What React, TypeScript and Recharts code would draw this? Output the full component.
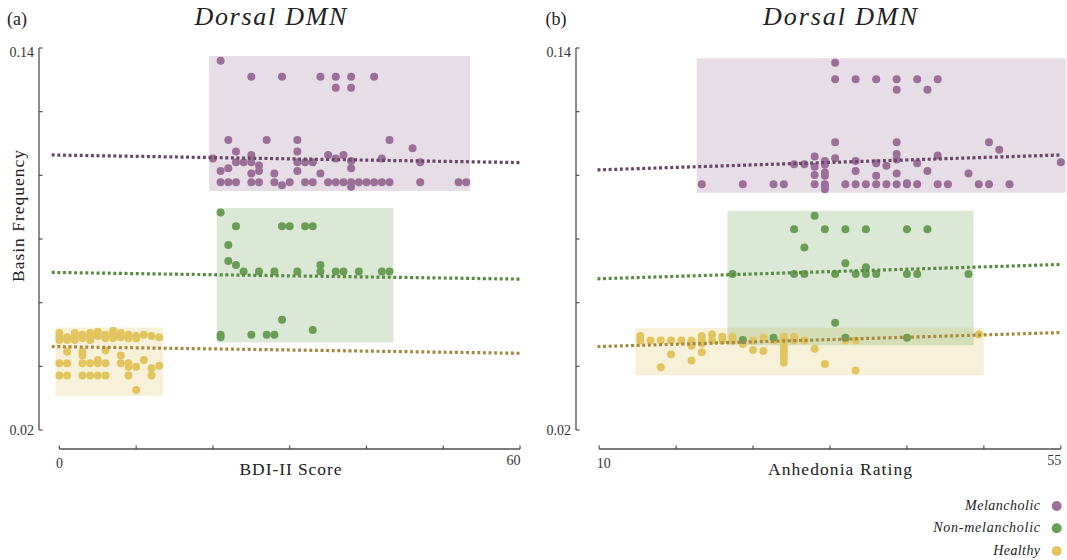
import React from 'react';
import { ScatterChart, Scatter, XAxis, YAxis, ReferenceArea, ReferenceLine } from 'recharts';

// colours picked off the figure
const MEL = '#9b6f98';
const NON = '#6a9d55';
const HEA = '#e3c560';
const MEL_LINE = '#684665';
const NON_LINE = '#5a8b43';
const HEA_LINE = '#a48b42';
const AXIS = '#505050';
const FONT = '"Liberation Serif", "Times New Roman", serif';

// ---- tick values ----
const bdiTicks = [0, 10, 20, 30, 40, 50, 60];
const anhTicks = [10, 17.5, 25, 32.5, 40, 47.5, 55];
const freqTicks = [0.02, 0.04, 0.06, 0.08, 0.1, 0.12, 0.14];

// ---- (a) BDI-II score vs basin frequency ----
const bdiMelancholic = [
  [21, 0.136],
  [25, 0.131], [29, 0.131], [34, 0.131], [36, 0.131], [38, 0.131], [41, 0.131],
  [36, 0.1275], [38, 0.1275],
  [22, 0.1111], [27, 0.1111], [31, 0.1111], [43, 0.1111],
  [46, 0.1085],
  [23, 0.1075], [31, 0.1075],
  [25, 0.1064], [35, 0.1064], [37, 0.1064],
  [20, 0.1053], [36, 0.1053], [42, 0.1053],
  [38, 0.1045], [47, 0.1041],
  [23, 0.1041], [24, 0.1041], [25, 0.1041], [31, 0.1041], [32, 0.1041], [33, 0.1041],
  [26, 0.1031],
  [22, 0.1022], [38, 0.1022],
  [21, 0.1014], [26, 0.1014], [31, 0.1014],
  [25, 0.1006], [28, 0.1006], [34, 0.1006],
  [21, 0.0978], [22, 0.0978], [23, 0.0978], [25, 0.0978], [26, 0.0978], [28, 0.0978],
  [29, 0.0969], [30, 0.0978], [32, 0.0978], [33, 0.0978], [35, 0.0978], [36, 0.0978],
  [37, 0.0978], [38, 0.0978], [38, 0.0964], [39, 0.0978], [40, 0.0978], [41, 0.0978],
  [42, 0.0978], [43, 0.0978], [47, 0.0978], [52, 0.0978], [53, 0.0978],
];
const bdiNonMelancholic = [
  [21, 0.0883],
  [23, 0.084], [29, 0.084], [30, 0.084], [32, 0.084], [33, 0.084],
  [22, 0.0781], [22, 0.0731], [23, 0.0718], [34, 0.0718],
  [24, 0.0698], [26, 0.0698], [28, 0.0698], [31, 0.0698], [34, 0.0698],
  [36, 0.0698], [37, 0.0698], [39, 0.0698], [42, 0.0698], [43, 0.0698],
  [29, 0.0546], [33, 0.0514],
  [21, 0.0499], [21, 0.0491], [25, 0.0499], [27, 0.0499], [28, 0.0499],
];
const bdiHealthy = [
  [0, 0.0505], [0, 0.0491], [0, 0.0483], [0, 0.041], [0, 0.0371],
  [1, 0.0491], [1, 0.0483], [1, 0.0446], [1, 0.041], [1, 0.0371],
  [2, 0.0505], [2, 0.0491], [2, 0.0483],
  [3, 0.0499], [3, 0.0488], [3, 0.0446], [3, 0.0434], [3, 0.041], [3, 0.0371],
  [4, 0.0505], [4, 0.0491], [4, 0.0483], [4, 0.041], [4, 0.0371],
  [5, 0.0509], [5, 0.0495], [5, 0.042], [5, 0.041], [5, 0.0371],
  [6, 0.0499], [6, 0.0488], [6, 0.045], [6, 0.041], [6, 0.0371],
  [7, 0.0512], [7, 0.0499], [7, 0.0488],
  [8, 0.0505], [8, 0.0491], [8, 0.0434], [8, 0.041],
  [9, 0.0499], [9, 0.0488], [9, 0.041], [9, 0.0399], [9, 0.0371],
  [10, 0.0495], [10, 0.0488], [10, 0.0399], [10, 0.0326],
  [11, 0.0499], [11, 0.042],
  [12, 0.0495], [12, 0.0394], [12, 0.0371],
  [13, 0.0491], [13, 0.0402],
];
// shaded ranges: [x1, x2, y1, y2]
const bdiMelBox = [19.5, 53.5, 0.0951, 0.1375];
const bdiNonBox = [20.5, 43.5, 0.0475, 0.0897];
const bdiHeaBox = [-0.5, 13.5, 0.0307, 0.0522];
// fitted lines: [[x1, y1], [x2, y2]]
const bdiMelFit = [[-1, 0.1064], [60, 0.104]];
const bdiNonFit = [[-1, 0.0695], [60, 0.0674]];
const bdiHeaFit = [[-1, 0.0462], [60, 0.0441]];

// ---- (b) anhedonia rating vs basin frequency ----
const anhMelancholic = [
  [33, 0.1354],
  [33, 0.1302], [35, 0.1302], [37, 0.1302], [39, 0.1302], [41, 0.1302], [43, 0.1302],
  [39, 0.1269], [42, 0.1269],
  [33, 0.1104], [39, 0.1104], [48, 0.1104],
  [49, 0.108],
  [39, 0.1067], [43, 0.1062], [31, 0.1059], [33, 0.1054],
  [39, 0.105], [32, 0.1045], [35, 0.1045], [55, 0.1041], [37, 0.1038], [41, 0.1038],
  [29, 0.1035], [30, 0.1035], [32, 0.1033], [38, 0.103], [31, 0.1027],
  [35, 0.1014], [42, 0.1014], [32, 0.1009], [39, 0.1006], [46, 0.1006],
  [31, 0.1001], [32, 0.0999], [37, 0.0999],
  [20, 0.0972], [24, 0.0972], [27, 0.0972], [28, 0.0972], [31, 0.0972], [32, 0.0972],
  [34, 0.0972], [35, 0.0972], [36, 0.0972], [37, 0.0972], [38, 0.0972], [39, 0.0972],
  [40, 0.0972], [40, 0.0975], [41, 0.0972], [43, 0.0972], [44, 0.0972], [47, 0.0972],
  [48, 0.0972], [50, 0.0972], [32, 0.0965], [32, 0.0956],
];
const anhNonMelancholic = [
  [31, 0.0873],
  [29, 0.0831], [32, 0.0831], [34, 0.0831], [36, 0.0831], [40, 0.0831], [42, 0.0831],
  [30, 0.0773], [34, 0.0724], [36, 0.0711],
  [23, 0.069], [29, 0.069], [30, 0.069], [33, 0.069], [35, 0.069], [36, 0.069],
  [37, 0.069], [40, 0.069], [41, 0.069], [46, 0.069],
  [33, 0.0537],
  [24, 0.0483], [27, 0.049], [34, 0.049], [40, 0.049],
];
const anhHealthy = [
  [14, 0.0495], [14, 0.0481], [15, 0.0481], [16, 0.0481], [16, 0.0397],
  [17, 0.0481], [17, 0.0438], [18, 0.0481],
  [19, 0.0481], [19, 0.0465], [19, 0.0418],
  [20, 0.0495], [20, 0.0481], [20, 0.0472], [20, 0.0444],
  [21, 0.05], [21, 0.0481], [22, 0.0493], [22, 0.0481], [23, 0.0493], [23, 0.0481],
  [24, 0.0483], [24, 0.047], [25, 0.0481], [25, 0.0451], [26, 0.049], [26, 0.0448],
  [27, 0.0481],
  [28, 0.0493], [28, 0.0481], [28, 0.0464], [28, 0.0451], [28, 0.0438], [28, 0.0427], [28, 0.0412],
  [29, 0.0493], [29, 0.0481], [30, 0.0481], [31, 0.0455], [32, 0.0407],
  [34, 0.0481], [35, 0.0481], [35, 0.0387], [47, 0.05],
];
const anhMelBox = [19.5, 55.5, 0.0945, 0.1368];
const anhNonBox = [22.5, 46.5, 0.0466, 0.0889];
const anhHeaBox = [13.5, 47.5, 0.0371, 0.0521];
const anhMelFit = [[9.83, 0.1017], [55, 0.1064]];
const anhNonFit = [[9.83, 0.0675], [55, 0.072]];
const anhHeaFit = [[9.83, 0.0462], [55, 0.0506]];

const Y_MIN = 0.01403;
const Y_MAX = 0.14;

const toPoints = (arr: number[][]) => arr.map(([x, y]) => ({ x, y }));

const makeXTick = (ticks: number[], firstDx: number) => (props: any) => {
  const { x, y, payload } = props;
  const v = payload.value;
  const first = v === ticks[0];
  const last = v === ticks[ticks.length - 1];
  return (
    <g>
      <line x1={x} x2={x} y1={y} y2={y - 3.5} stroke={AXIS} strokeWidth={1.2} />
      {first && (
        <text x={x + firstDx} y={y + 19} fontSize={14} fontFamily={FONT} fill="#333" textAnchor="start">{v}</text>
      )}
      {last && (
        <text x={x + 0.5} y={y + 16} fontSize={14} fontFamily={FONT} fill="#333" textAnchor="end">{v}</text>
      )}
    </g>
  );
};

const YTick = (props: any) => {
  const { x, y, payload } = props;
  const v = payload.value;
  const isTop = v === Y_MAX;
  const isBottom = v === freqTicks[0];
  return (
    <g>
      <line x1={x} x2={x + 3.5} y1={y} y2={y} stroke={AXIS} strokeWidth={1.2} />
      {(isTop || isBottom) && (
        <text x={x - 5} y={isTop ? y + 9 : y + 5} fontSize={14} fontFamily={FONT} fill="#333" textAnchor="end">{String(v)}</text>
      )}
    </g>
  );
};

const dot = (color: string) => (p: any) => <circle cx={p.cx} cy={p.cy} r={4} fill={color} />;

function Panel(props: {
  left: number;
  width: number;
  yAxisWidth: number;
  xDomain: number[];
  xTicks: number[];
  firstDx: number;
  groups: { pts: number[][]; box: number[]; fit: number[][]; color: string; line: string }[];
}) {
  const { left, width, yAxisWidth, xDomain, xTicks, firstDx, groups } = props;
  return (
    <div style={{ position: 'absolute', left, top: 0 }}>
      <ScatterChart width={width} height={481} margin={{ top: 48, right: 0, bottom: 0, left: 0 }}>
        <XAxis
          type="number"
          dataKey="x"
          domain={xDomain}
          ticks={xTicks}
          interval={0}
          axisLine={false}
          tickLine={false}
          tickSize={0}
          tickMargin={0}
          height={32}
          tick={makeXTick(xTicks, firstDx)}
        />
        <YAxis
          type="number"
          dataKey="y"
          domain={[Y_MIN, Y_MAX]}
          ticks={freqTicks}
          interval={0}
          axisLine={false}
          tickLine={false}
          tickSize={0}
          tickMargin={0}
          width={yAxisWidth}
          tick={YTick}
        />
        {groups.map((g, i) => (
          <ReferenceArea
            key={'box' + i}
            x1={g.box[0]}
            x2={g.box[1]}
            y1={g.box[2]}
            y2={g.box[3]}
            fill={g.color}
            fillOpacity={0.24}
            stroke="none"
            ifOverflow="visible"
          />
        ))}
        <ReferenceLine
          segment={[{ x: xDomain[0], y: freqTicks[0] }, { x: xDomain[0], y: Y_MAX }]}
          stroke={AXIS}
          strokeWidth={1.3}
          ifOverflow="visible"
        />
        <ReferenceLine
          segment={[{ x: xTicks[0], y: Y_MIN }, { x: xTicks[xTicks.length - 1], y: Y_MIN }]}
          stroke={AXIS}
          strokeWidth={1.3}
          ifOverflow="visible"
        />
        {groups.map((g, i) => (
          <Scatter
            key={'pts' + i}
            data={toPoints(g.pts)}
            fill={g.color}
            shape={dot(g.color)}
            isAnimationActive={false}
          />
        ))}
        {groups.map((g, i) => (
          <ReferenceLine
            key={'fit' + i}
            segment={[{ x: g.fit[0][0], y: g.fit[0][1] }, { x: g.fit[1][0], y: g.fit[1][1] }]}
            stroke={g.line}
            strokeWidth={3.2}
            strokeDasharray="3 2.6"
            ifOverflow="visible"
            zIndex={700}
          />
        ))}
      </ScatterChart>
    </div>
  );
}

export default function App() {
  const txt = { fontFamily: FONT, fill: '#222' } as const;
  return (
    <div style={{ position: 'absolute', left: 0, top: 0, width: 1067, height: 560, background: '#fff' }}>
      <Panel
        left={0}
        width={530}
        yAxisWidth={39}
        xDomain={[-2.657, 61.3]}
        xTicks={bdiTicks}
        firstDx={-3.4}
        groups={[
          { pts: bdiMelancholic, box: bdiMelBox, fit: bdiMelFit, color: MEL, line: MEL_LINE },
          { pts: bdiNonMelancholic, box: bdiNonBox, fit: bdiNonFit, color: NON, line: NON_LINE },
          { pts: bdiHealthy, box: bdiHeaBox, fit: bdiHeaFit, color: HEA, line: HEA_LINE },
        ]}
      />
      <Panel
        left={530}
        width={537}
        yAxisWidth={46}
        xDomain={[7.738, 55.604]}
        xTicks={anhTicks}
        firstDx={-2.4}
        groups={[
          { pts: anhMelancholic, box: anhMelBox, fit: anhMelFit, color: MEL, line: MEL_LINE },
          { pts: anhHealthy, box: anhHeaBox, fit: anhHeaFit, color: HEA, line: HEA_LINE },
          { pts: anhNonMelancholic, box: anhNonBox, fit: anhNonFit, color: NON, line: NON_LINE },
        ]}
      />
      <svg width={1067} height={560} style={{ position: 'absolute', left: 0, top: 0, pointerEvents: 'none' }}>
        <text x={7} y={25} fontSize={18} {...txt}>(a)</text>
        <text x={545.5} y={25} fontSize={18} {...txt}>(b)</text>
        <text x={270.4} y={25} fontSize={26} fontStyle="italic" textLength={152} lengthAdjust="spacing" textAnchor="middle" {...txt}>Dorsal DMN</text>
        <text x={840} y={25} fontSize={26} fontStyle="italic" textLength={154} lengthAdjust="spacing" textAnchor="middle" {...txt}>Dorsal DMN</text>
        <text x={290.5} y={475} fontSize={17.5} textLength={102} lengthAdjust="spacing" textAnchor="middle" {...txt}>BDI-II Score</text>
        <text x={840} y={475} fontSize={17.5} textLength={144} lengthAdjust="spacing" textAnchor="middle" {...txt}>Anhedonia Rating</text>
        <text x={24} y={216} fontSize={17.5} textLength={132} lengthAdjust="spacing" textAnchor="middle" transform="rotate(-90 24 216)" {...txt}>Basin Frequency</text>
        <text x={1040} y={510} fontSize={14} fontStyle="italic" textLength={75} lengthAdjust="spacing" textAnchor="end" {...txt}>Melancholic</text>
        <text x={1040} y={532} fontSize={14} fontStyle="italic" textLength={106.7} lengthAdjust="spacing" textAnchor="end" {...txt}>Non-melancholic</text>
        <text x={1040} y={555} fontSize={14} fontStyle="italic" textLength={46.7} lengthAdjust="spacing" textAnchor="end" {...txt}>Healthy</text>
        <circle cx={1056.7} cy={506} r={5} fill={MEL} />
        <circle cx={1056.7} cy={528.3} r={5} fill={NON} />
        <circle cx={1056.7} cy={551} r={5} fill={HEA} />
      </svg>
    </div>
  );
}
